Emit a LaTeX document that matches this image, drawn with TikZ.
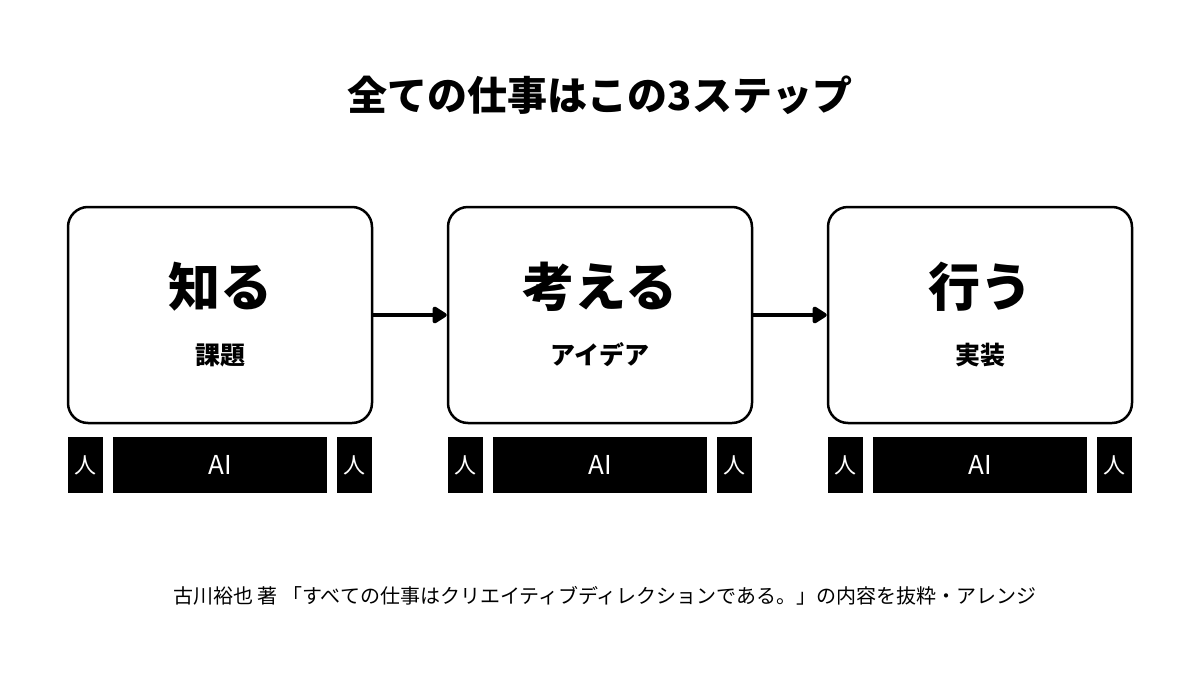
\documentclass[tikz,border=0pt]{standalone}
\usepackage{fontspec}
\setmainfont{Noto Sans CJK JP}
\usepackage{tikz}
\usetikzlibrary{arrows.meta}

\tikzset{
  stage/.style={draw, line width=1.25pt, rounded corners=10pt, minimum width=152pt, minimum height=108pt, inner sep=0pt},
  verb/.style={font=\fontsize{26}{27}\selectfont\bfseries},
  sub/.style={font=\fontsize{12.5}{13}\selectfont\bfseries},
  hand/.style={fill=black, text=white, inner sep=0pt, minimum width=17.5pt, minimum height=28pt, font=\fontsize{11}{12}\selectfont},
  ai/.style={fill=black, text=white, inner sep=0pt, minimum width=107pt, minimum height=28pt, font=\fontsize{13}{14}\selectfont}
}

\begin{document}
\begin{tikzpicture}
[x=0.5pt,y=-0.5pt]
\useasboundingbox (0,0) rectangle (1200,675);

\node[font=\fontsize{20}{21}\selectfont\bfseries] (t) at (600,95) {全ての仕事はこの3ステップ};

\node[stage] (b1) at (220,315) {};
\node[verb] (v1) at (220,287) {知る};
\node[sub] (s1) at (220,355) {課題};

\node[stage] (b2) at (600,315) {};
\node[verb] (v2) at (600,287) {考える};
\node[sub] (s2) at (600,355) {アイデア};

\node[stage] (b3) at (980,315) {};
\node[verb] (v3) at (980,287) {行う};
\node[sub] (s3) at (980,355) {実装};

\node[hand] (h1) at (85.5,465) {人};
\node[ai] (a1) at (220,465) {AI};
\node[hand] (k1) at (354.5,465) {人};

\node[hand] (h2) at (465.5,465) {人};
\node[ai] (a2) at (600,465) {AI};
\node[hand] (k2) at (734.5,465) {人};

\node[hand] (h3) at (845.5,465) {人};
\node[ai] (a3) at (980,465) {AI};
\node[hand] (k3) at (1114.5,465) {人};

\node[font=\fontsize{10}{11}\selectfont] (f) at (605,596) {古川裕也 著 「すべての仕事はクリエイティブディレクションである。」の内容を抜粋・アレンジ};

\foreach \from/\to in {b1/b2,b2/b3}
\draw[line width=2pt, -{Triangle[length=8pt,width=9.5pt,round]}] (\from) -- (\to);
\end{tikzpicture}
\end{document}
